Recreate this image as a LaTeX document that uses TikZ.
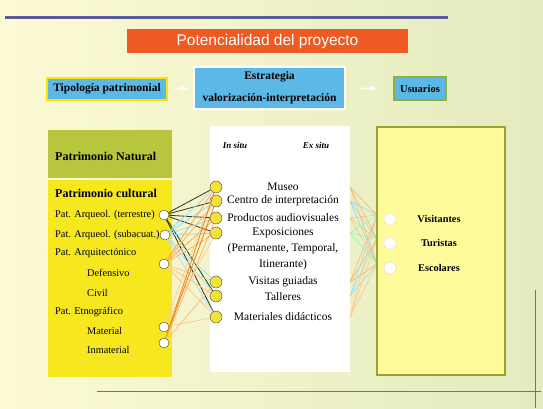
\documentclass[tikz,border=0pt]{standalone}
\usepackage{fontspec}
\setmainfont{Liberation Serif}
\setsansfont{Liberation Sans}
\usetikzlibrary{positioning}

\definecolor{fondo}{HTML}{FCFAD4}
\definecolor{fondoverde}{HTML}{E4EBBE}
\definecolor{rojizo}{HTML}{EE5A24}
\definecolor{celeste}{HTML}{5CB8E6}
\definecolor{amarillo}{HTML}{F6E71E}
\definecolor{oliva}{HTML}{B8C63E}
\definecolor{crema}{HTML}{FFFB9A}
\definecolor{borde}{HTML}{9AA232}
\definecolor{morado}{HTML}{5C5C9C}
\definecolor{bordeverde}{HTML}{8FB040}
\definecolor{bolita}{HTML}{F2E23A}

\tikzset{
  caja/.style={draw=#1, line width=2pt, fill=celeste, font=\bfseries\fontsize{11.5}{22}\selectfont, inner sep=2pt, align=center},
  hueco/.style={circle, draw=black!75, fill=white, minimum size=10pt, inner sep=0pt},
  medio/.style={circle, draw=black!75, fill=bolita, minimum size=12pt, inner sep=0pt},
  blanco/.style={circle, draw=white!85!black, fill=white, minimum size=12pt, inner sep=0pt},
  izq/.style={anchor=west, font=\fontsize{10.3}{11}\selectfont, inner sep=0pt},
  cen/.style={font=\fontsize{11.5}{12}\selectfont, inner sep=0pt},
  flecha/.style={white, line width=1.5pt, -latex, opacity=0.8}
}

\begin{document}
\begin{tikzpicture}[x=1pt,y=-1pt]
    \useasboundingbox (0,0) rectangle (543,408);
    \shade[left color=fondo, right color=fondoverde] (0,0) rectangle (543,408);
    \draw[morado, line width=3pt] (5,17) -- (448,17);

    \node[fill=rojizo, text=white, font=\sffamily\fontsize{15.5}{17}\selectfont, minimum width=281pt, minimum height=24pt] (tit) at (267.5,41) {Potencialidad del proyecto};

    \node[caja=yellow!85!orange, minimum width=120pt, minimum height=22pt] (tipo) at (107,89) {Tipolog\'ia patrimonial};
    \node[caja=white, minimum width=151pt, minimum height=42pt] (estr) at (269.5,88) {Estrategia\\valorizaci\'on-interpretaci\'on};
    \node[caja=bordeverde, font=\bfseries\fontsize{10.5}{12}\selectfont, minimum width=52pt, minimum height=23pt] (usu) at (420,88.5) {Usuarios};

    \draw[flecha, shorten <=6pt, shorten >=4pt] (tipo) -- (estr);
    \draw[flecha, shorten <=14pt, shorten >=16pt] (estr) -- (usu);

    % tipologia
    \fill[oliva] (48,130) rectangle (172,178);
    \fill[amarillo] (48,180) rectangle (172,377);
    \node[izq, font=\bfseries\fontsize{12}{13}\selectfont] (nat) at (55,156) {Patrimonio Natural};
    \node[izq, font=\bfseries\fontsize{12}{13}\selectfont] (cul) at (55,193) {Patrimonio cultural};
    \foreach \t/\x/\y/\n in {Pat. Arqueol. (terrestre)/55/215/p1, Pat. Arqueol. (subacuat.)/55/235/p2,
        Pat. Arquitect\'onico/55/253/p3, Defensivo/87/273/p4, Civil/87/293/p5,
        Pat. Etnogr\'afico/55/312/p6, Material/87/331/p7, Inmaterial/87/350/p8}
    \node[izq] (\n) at (\x,\y) {\t};

    \node[hueco] (lt) at (164,215) {};
    \node[hueco] (ls) at (165,235) {};
    \node[hueco] (la) at (164,264) {};
    \node[hueco] (lm) at (164,327) {};
    \node[hueco] (li) at (164,343) {};

    % estrategia
    \fill[white] (210,126) rectangle (350,372);
    \node[cen, font=\bfseries\itshape\fontsize{9}{10}\selectfont] (insitu) at (235,145) {In situ};
    \node[cen, font=\bfseries\itshape\fontsize{9}{10}\selectfont] (exsitu) at (316,145) {Ex situ};
    \foreach \t/\y/\n in {Museo/187/t1, Centro de interpretaci\'on/201/t2, Productos audiovisuales/218/t3,
        Exposiciones/233/t4, {(Permanente, Temporal,}/249/t5, Itinerante)/265/t6,
        Visitas guiadas/282/t7, Talleres/297/t8, Materiales did\'acticos/317/t9}
    \node[cen] (\n) at (283,\y) {\t};

    \foreach \y [count=\i] in {187,201,218,233,282,296,317} {
      \node[medio] (m\i) at (216,\y) {};
      \coordinate (e\i) at (350,\y);
    }

    \foreach \a/\b/\c in {lt/m1/black!80, lt/m2/black!80, lt/m3/black!80, lt/m4/black!80,
        lt/m6/black!70!green, lt/m7/black!85,
        ls/m1/cyan!40, ls/m2/cyan!40, ls/m3/cyan!40, ls/m4/cyan!45, ls/m5/cyan!35, ls/m6/cyan!35, ls/m7/cyan!35,
        la/m1/orange!70, la/m2/orange!60, la/m3/orange!70, la/m4/orange!60, la/m5/orange!45, la/m6/orange!45, la/m7/orange!45,
        lm/m1/orange!40, lm/m4/orange!40, lm/m7/orange!40,
        li/m1/orange!80!brown, li/m2/orange!70!brown, li/m3/orange!60, li/m5/orange!50}
    \draw[\c, line width=0.8pt] (\a) -- (\b);

    % usuarios
    \foreach \y [count=\j] in {219,243,268}
      \coordinate (r\j) at (377,\y-4);
    \foreach \i/\c in {1/orange!60, 2/cyan!45, 3/orange!50, 4/green!50!cyan!50, 5/orange!60, 6/cyan!40, 7/orange!45}
      \foreach \j in {1,2,3}
        \draw[\c, line width=0.6pt] (e\i) -- (r\j);

    \filldraw[fill=crema, draw=borde, line width=2pt] (377,127) rectangle (505,375);
    \foreach \t/\y [count=\j] in {Visitantes/219, Turistas/243, Escolares/268} {
      \node[blanco] (u\j) at (390,\y) {};
      \node[cen, font=\bfseries\fontsize{10.3}{11}\selectfont] (v\j) at (439,\y) {\t};
    }

    \coordinate (g1) at (97,391);
    \coordinate (g2) at (541,391);
    \coordinate (g3) at (535,290);
    \coordinate (g4) at (535,408);
    \draw[black!55, line width=0.8pt] (g1) -- (g2);
    \draw[black!55, line width=0.8pt] (g3) -- (g4);
\end{tikzpicture}
\end{document}
